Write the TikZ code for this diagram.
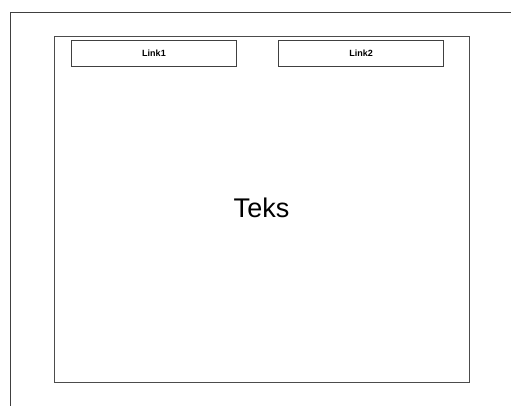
\documentclass[tikz,border=0pt]{standalone}
\usepackage{fontspec}
\setmainfont{Liberation Sans}
\begin{document}
\begin{tikzpicture}[x=1pt,y=-1pt,
  frameline/.style={draw=black!75,line width=1pt},
  linkbox/.style={draw=black!75,line width=1pt,minimum width=165pt,minimum height=26pt,inner sep=0pt,font=\fontsize{9}{10}\selectfont\bfseries},
  mainbox/.style={draw=black!70,line width=1pt,minimum width=415pt,minimum height=345.5pt,inner sep=0pt}]
\useasboundingbox (0,0) rectangle (511,406);
\coordinate (tl) at (10.5,12.5);
\coordinate (tr) at (511,12.5);
\coordinate (bl) at (10.5,406);
\draw[frameline] (tr) -- (tl) -- (bl);
\node[mainbox] (main) at (261.75,209.25) {};
\node[font=\fontsize{27}{30}\selectfont,anchor=base,inner sep=0pt] (teks) at (261.5,217) {Teks};
\node[linkbox] (link1) at (154,53.5) {Link1};
\node[linkbox] (link2) at (361,53.5) {Link2};
\end{tikzpicture}
\end{document}
